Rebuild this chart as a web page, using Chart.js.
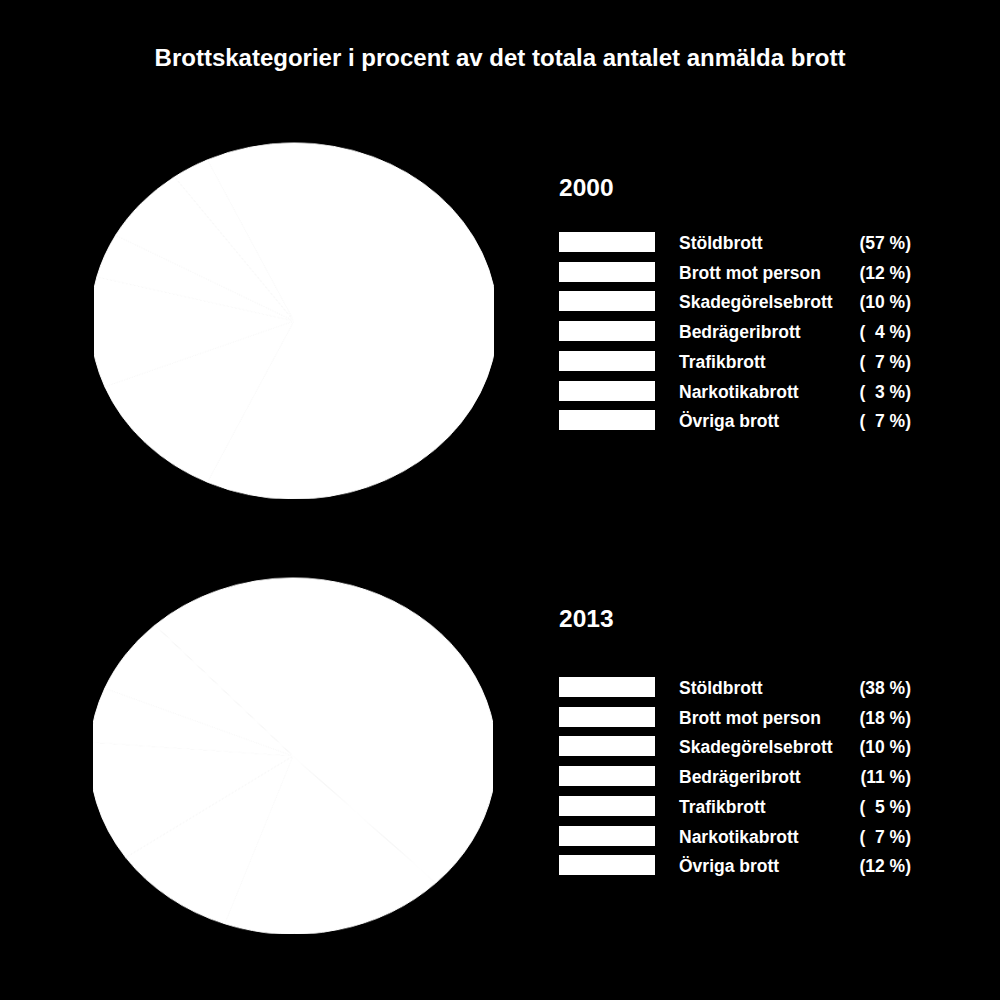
<!DOCTYPE html>
<html>
<head>
<meta charset="utf-8">
<script src="https://cdn.jsdelivr.net/npm/chart.js@4.4.1/dist/chart.umd.min.js"></script>
<style>
  html, body { margin: 0; padding: 0; background: #000; }
  body { width: 1000px; height: 1000px; position: relative; overflow: hidden;
         font-family: "Liberation Sans", Arial, sans-serif; color: #fff; }
  .title { position: absolute; left: 0; width: 1000px; top: 44px; text-align: center;
           font-weight: bold; font-size: 24px; }
  .pieClip { position: absolute; width: 400px; height: 357px; overflow: hidden; }
  .pieBox { position: absolute; left: -4px; top: -25.5px; width: 408px; height: 408px;
            transform: scaleY(0.875); transform-origin: 50% 50%; }
  .year { position: absolute; left: 559px; font-weight: bold; font-size: 24.5px; }
  .box { position: absolute; left: 559px; width: 96px; height: 20px; background: #fff; }
  .lab { position: absolute; left: 679px; font-weight: bold; font-size: 17.5px; line-height: 20px; }
  .pct { position: absolute; right: 89px; font-weight: bold; font-size: 17.5px; line-height: 20px; white-space: pre; }
</style>
</head>
<body>
<div class="title">Brottskategorier i procent av det totala antalet anmälda brott</div>

<div class="pieClip" style="left:94px; top:142px;"><div class="pieBox"><canvas id="pie2000"></canvas></div></div>
<div class="pieClip" style="left:93px; top:577px;"><div class="pieBox"><canvas id="pie2013"></canvas></div></div>

<div id="legends"></div>

<script>
const categories = ['Stöldbrott', 'Brott mot person', 'Skadegörelsebrott', 'Bedrägeribrott', 'Trafikbrott', 'Narkotikabrott', 'Övriga brott'];
const years = ['2000', '2013'];
const values2000 = [57, 12, 10, 4, 7, 3, 7];
const values2013 = [38, 18, 10, 11, 5, 7, 12];
const sliceColors = ['#ffffff', '#ffffff', '#ffffff', '#ffffff', '#ffffff', '#ffffff', '#ffffff'];

function makePie(id, values) {
  const ctx = document.getElementById(id).getContext('2d');
  return new Chart(ctx, {
    type: 'pie',
    data: {
      labels: categories,
      datasets: [{
        data: values,
        backgroundColor: sliceColors,
        borderColor: sliceColors,   // keeps the seams between white slices faint
        borderWidth: 1,
        hoverOffset: 0
      }]
    },
    options: {
      responsive: true,
      maintainAspectRatio: false,
      animation: false,
      layout: { padding: 0 },
      plugins: {
        legend: { display: false },
        tooltip: { enabled: false }
      }
    }
  });
}

const pie2000 = makePie('pie2000', values2000);
const pie2013 = makePie('pie2013', values2013);

// legend blocks built from the same arrays
const legendTops = [174, 605];
const rowTops = [232, 677];
const rowStep = 29.7;
const legends = document.getElementById('legends');
[values2000, values2013].forEach((vals, i) => {
  let html = `<div class="year" style="top:${legendTops[i]}px">${years[i]}</div>`;
  categories.forEach((cat, j) => {
    const y = rowTops[i] + j * rowStep;
    const pct = vals[j] < 10 ? `(  ${vals[j]} %)` : `(${vals[j]} %)`;
    html += `<div class="box" style="top:${y}px"></div>`;
    html += `<div class="lab" style="top:${y + 1}px">${cat}</div>`;
    html += `<div class="pct" style="top:${y + 1}px">${pct}</div>`;
  });
  legends.insertAdjacentHTML('beforeend', html);
});
</script>
</body>
</html>
